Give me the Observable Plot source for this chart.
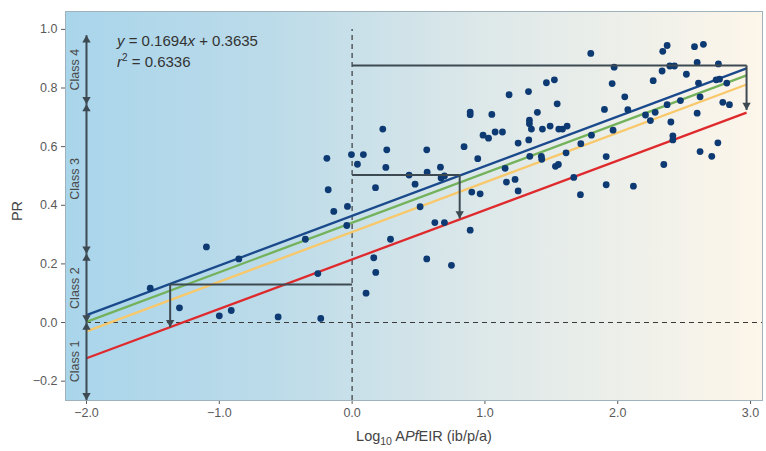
<!DOCTYPE html>
<html><head><meta charset="utf-8">
<script src="https://cdn.jsdelivr.net/npm/d3@7"></script>
<script src="https://cdn.jsdelivr.net/npm/@observablehq/plot@0.6"></script>
<style>
body{margin:0;background:#fff;}
#chart svg{display:block;background:
  linear-gradient(#fff,#fff) top left/100% 10px no-repeat,
  linear-gradient(#fff,#fff) top left/8px 100% no-repeat, #fdf6ec;}
</style></head><body><div id="chart"></div>
<script>
// ---- data ----
const xTicks = [-2, -1, 0, 1, 2, 3];
const yTicks = [-0.2, 0, 0.2, 0.4, 0.6, 0.8, 1.0];

const ptX = [-1.52,-1.30,-1.097,-1.0,-0.91,-0.853,-0.557,-0.352,-0.258,-0.236,-0.19,-0.18,-0.138,-0.04,-0.035,-0.005,0.04,0.085,0.105,0.163,0.178,0.176,0.231,0.254,0.261,0.289,0.429,0.474,0.512,0.562,0.565,0.562,0.623,0.665,0.67,0.695,0.695,0.748,0.843,0.889,0.889,0.889,0.901,0.946,0.964,0.986,1.027,1.052,1.077,1.132,1.152,1.162,1.182,1.227,1.25,1.25,1.328,1.33,1.338,1.335,1.335,1.35,1.395,1.425,1.428,1.433,1.463,1.491,1.523,1.531,1.544,1.553,1.556,1.584,1.611,1.619,1.669,1.719,1.722,1.797,1.802,1.9,1.913,1.913,1.958,1.965,1.973,2.053,2.076,2.118,2.209,2.246,2.267,2.282,2.334,2.339,2.347,2.372,2.372,2.392,2.4,2.415,2.415,2.427,2.472,2.517,2.578,2.598,2.598,2.608,2.62,2.62,2.645,2.708,2.741,2.754,2.758,2.766,2.791,2.821,2.841];
const ptY = [0.117,0.05,0.258,0.023,0.041,0.217,0.019,0.284,0.167,0.014,0.56,0.453,0.379,0.331,0.396,0.573,0.54,0.573,0.1,0.221,0.171,0.46,0.66,0.529,0.589,0.284,0.503,0.472,0.395,0.589,0.513,0.217,0.341,0.53,0.493,0.5,0.341,0.195,0.6,0.718,0.709,0.315,0.445,0.559,0.439,0.639,0.629,0.71,0.65,0.65,0.526,0.479,0.777,0.488,0.449,0.612,0.788,0.623,0.567,0.69,0.678,0.66,0.717,0.567,0.557,0.66,0.818,0.67,0.828,0.533,0.746,0.539,0.66,0.66,0.579,0.67,0.495,0.436,0.61,0.918,0.639,0.727,0.566,0.47,0.815,0.656,0.871,0.77,0.726,0.465,0.708,0.689,0.825,0.717,0.858,0.925,0.539,0.945,0.743,0.875,0.684,0.637,0.623,0.875,0.757,0.847,0.941,0.887,0.714,0.817,0.77,0.583,0.949,0.567,0.828,0.613,0.882,0.83,0.751,0.817,0.743];

const fitNames = ["fit", "line2", "line3", "line4"];
const fitX = [-2, 2.97];
const fitStart = [0.025, 0.002, -0.03, -0.122];
const fitEnd = [0.867, 0.843, 0.812, 0.716];

const classNames = ["Class 1", "Class 2", "Class 3", "Class 4"];
const classLow = [-0.265, 0, 0.235, 0.745];
const classHigh = [0, 0.235, 0.745, 0.98];
const classX = -2;

const guideXEnd = [-1.37, 0.81, 2.97];
const guideY = [0.13, 0.503, 0.877];
const guideDrop = [-0.016, 0.355, 0.725];
const guideDashed = [false, true, false];

const refTop = 1.0;

// ---- derived tables ----
const points = ptX.map((x, i) => ({x, y: ptY[i]}));
const fits = fitNames.map((name, i) => ({name, x1: fitX[0], y1: fitStart[i], x2: fitX[1], y2: fitEnd[i]}));
const classes = classNames.map((name, i) => ({name, lo: classLow[i], hi: classHigh[i], mid: (classLow[i] + classHigh[i]) / 2}));
const guides = guideXEnd.map((xe, i) => ({xe, y: guideY[i], drop: guideDrop[i], dashed: guideDashed[i]}));

const X_DOMAIN = [-2.158, 3.09];
const Y_DOMAIN = [-0.266, 1.061];

const fitColor = {fit: "#1b4a8c", line2: "#73b25a", line3: "#f8c86a", line4: "#df2a2d"};
const ARROW = "#3e4a52";

const downTri = {
  draw(ctx, size) {
    const s3 = Math.sqrt(3);
    const y = Math.sqrt(size / (s3 * 3));
    ctx.moveTo(0, 2 * y);
    ctx.lineTo(-s3 * y, -y);
    ctx.lineTo(s3 * y, -y);
    ctx.closePath();
  }
};
const TR = 3.1;
const TIP = 2 * Math.sqrt(Math.PI * TR * TR / (Math.sqrt(3) * 3));

const defsMark = () => {
  const defs = document.createElementNS("http://www.w3.org/2000/svg", "defs");
  defs.innerHTML = `<linearGradient id="bggrad" x1="0" x2="1" y1="0" y2="0">
    <stop offset="0" stop-color="#a9d5eb"/>
    <stop offset="0.3" stop-color="#bcdbe9"/>
    <stop offset="0.6" stop-color="#dde8e9"/>
    <stop offset="1" stop-color="#fdf6ea"/>
  </linearGradient>`;
  return defs;
};

const plot = Plot.plot({
  width: 766,
  height: 451,
  marginLeft: 65,
  marginRight: 4,
  marginTop: 11,
  marginBottom: 51,
  style: {fontFamily: "'Liberation Sans', Arial, sans-serif", fontSize: "12.5px", color: "#5a5a5a", background: "transparent"},
  x: {domain: X_DOMAIN, ticks: xTicks, tickFormat: d3.format(".1f"), tickSize: 4, tickPadding: 4, label: null},
  y: {domain: Y_DOMAIN, ticks: yTicks, tickFormat: d3.format(".1f"), tickSize: 4, tickPadding: 4, label: null},
  marks: [
    defsMark,
    Plot.frame({fill: "url(#bggrad)", stroke: "#9fb2bb", strokeWidth: 1}),
    // reference dashed lines
    Plot.ruleY([0], {x1: -2, x2: X_DOMAIN[1], stroke: "#3a3a3a", strokeWidth: 1.2, strokeDasharray: "5,4"}),
    Plot.ruleX([0], {y1: Y_DOMAIN[0], y2: refTop, stroke: "#3a3a3a", strokeWidth: 1.2, strokeDasharray: "5,4"}),
    // fitted lines
    Plot.link(fits, {x1: "x1", y1: "y1", x2: "x2", y2: "y2", stroke: d => fitColor[d.name], strokeWidth: 2.3}),
    // points
    Plot.dot(points, {x: "x", y: "y", r: 3.4, fill: "#0d3a72", stroke: "none"}),
    // guide horizontal lines
    Plot.link(guides, {x1: 0, x2: "xe", y1: "y", y2: "y", stroke: ARROW, strokeWidth: 2, strokeDasharray: d => d.dashed ? "5,4" : null}),
    Plot.link(guides, {x1: "xe", x2: "xe", y1: "y", y2: "drop", stroke: ARROW, strokeWidth: 2, strokeDasharray: d => d.dashed ? "5,4" : null}),
    Plot.dot(guides, {x: "xe", y: "drop", symbol: downTri, r: TR, fill: ARROW, stroke: "none", dy: -TIP}),
    // class arrows
    Plot.link(classes, {x1: classX, x2: classX, y1: "lo", y2: "hi", stroke: ARROW, strokeWidth: 2}),
    Plot.dot(classes, {x: classX, y: "hi", symbol: "triangle", r: TR, fill: ARROW, stroke: "none", dy: TIP}),
    Plot.dot(classes, {x: classX, y: "lo", symbol: downTri, r: TR, fill: ARROW, stroke: "none", dy: -TIP}),
    Plot.text(classes, {x: classX, y: "mid", text: "name", rotate: -90, dx: -11, fill: "#4a4a4a", fontSize: 12.5})
  ]
});

document.getElementById("chart").appendChild(plot);

// ---- rich text labels ----
const svg = d3.select(plot);
const txtFont = "'Liberation Sans', Arial, sans-serif";

const eq1 = svg.append("text").attr("x", 117).attr("y", 46).attr("text-anchor", "start")
  .attr("font-family", txtFont).attr("font-size", 15).attr("fill", "#333");
eq1.append("tspan").attr("font-style", "italic").text("y");
eq1.append("tspan").text(" = 0.1694");
eq1.append("tspan").attr("font-style", "italic").text("x");
eq1.append("tspan").text(" + 0.3635");

const eq2 = svg.append("text").attr("x", 117).attr("y", 67).attr("text-anchor", "start")
  .attr("font-family", txtFont).attr("font-size", 15).attr("fill", "#333");
eq2.append("tspan").attr("font-style", "italic").text("r");
eq2.append("tspan").attr("font-size", 10).attr("dy", -6).text("2");
eq2.append("tspan").attr("dy", 6).text(" = 0.6336");

const xl = svg.append("text").attr("x", 424).attr("y", 441)
  .attr("text-anchor", "middle")
  .attr("font-family", txtFont).attr("font-size", 14.5).attr("fill", "#444");
xl.append("tspan").text("Log");
xl.append("tspan").attr("font-size", 10.5).attr("dy", 4).text("10");
xl.append("tspan").attr("dy", -4).text(" A");
xl.append("tspan").attr("font-style", "italic").text("Pf");
xl.append("tspan").text("EIR (ib/p/a)");

svg.append("text")
  .attr("transform", "translate(22,211) rotate(-90)")
  .attr("text-anchor", "middle")
  .attr("font-family", txtFont).attr("font-size", 14.5).attr("fill", "#444")
  .text("PR");
</script></body></html>
